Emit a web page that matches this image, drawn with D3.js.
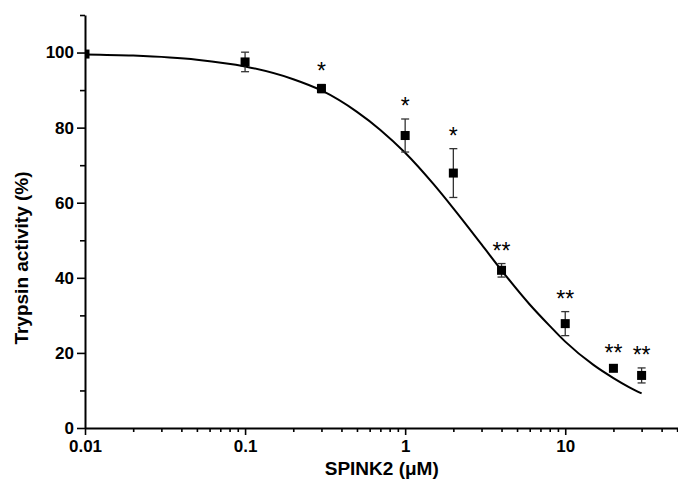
<!DOCTYPE html>
<html>
<head>
<meta charset="utf-8">
<script src="https://cdn.jsdelivr.net/npm/d3@7"></script>
<style>
  body { margin: 0; background: #fff; }
  svg { display: block; font-family: "Liberation Sans", Arial, sans-serif; }
</style>
</head>
<body>
<div class="main"></div>
<script>
// measured points (mean +/- error)
const conc = [0.01, 0.1, 0.3, 1, 2, 4, 10, 20, 30];
const activity = [99.6, 97.5, 90.4, 77.9, 67.9, 42.0, 27.8, 15.9, 14.0];
const errs = [0, 2.6, 1.1, 4.4, 6.5, 1.8, 3.2, 0.6, 2.0];
const stars = ["", "", "*", "*", "*", "**", "**", "**", "**"];

// fitted curve
const fitConc = [0.01, 0.02, 0.05, 0.1, 0.2, 0.3, 0.5, 0.7, 1, 1.5, 2, 3, 4, 6, 8, 10, 15, 20, 25, 30];
const fitActivity = [99.5, 99.2, 98.1, 96.3, 92.9, 89.9, 84.2, 79.4, 73.3, 65.0, 58.5, 48.9, 42.0, 32.9, 27.2, 23.0, 16.8, 13.3, 10.9, 9.2];

const xMajor = [0.01, 0.1, 1, 10];
const xMinor = [0.02, 0.03, 0.04, 0.05, 0.06, 0.07, 0.08, 0.09,
  0.2, 0.3, 0.4, 0.5, 0.6, 0.7, 0.8, 0.9,
  2, 3, 4, 5, 6, 7, 8, 9, 20, 30, 40, 50];
const yMajor = [0, 20, 40, 60, 80, 100];
const yMinor = [10, 30, 50, 70, 90, 110];

const fullwidth = 678;
const fullheight = 481;
const margin = { left: 85, right: 678.5, top: 15, bottom: 428 };

const svg = d3.select(".main")
  .append("svg")
  .attr("width", fullwidth)
  .attr("height", fullheight);

const x = d3.scaleLog().domain([0.01, 51]).range([margin.left, margin.right]);
const y = d3.scaleLinear().domain([0, 110]).range([margin.bottom, margin.top]);

svg.append("defs").append("clipPath").attr("id", "plot")
  .append("rect")
  .attr("x", margin.left).attr("y", 0)
  .attr("width", fullwidth - margin.left).attr("height", margin.bottom);

// fitted line
const line = d3.line()
  .x((d, i) => x(fitConc[i]))
  .y(d => y(d))
  .curve(d3.curveMonotoneX);

svg.append("path")
  .datum(fitActivity)
  .attr("clip-path", "url(#plot)")
  .attr("fill", "none")
  .attr("stroke", "#000")
  .attr("stroke-width", 2)
  .attr("d", line);

// error bars
const eg = svg.append("g").attr("stroke", "#333").attr("stroke-width", 1.3);
conc.forEach((c, i) => {
  if (!errs[i]) return;
  const cx = x(c);
  const y1 = y(activity[i] + errs[i]);
  const y2 = y(activity[i] - errs[i]);
  eg.append("line").attr("x1", cx).attr("x2", cx).attr("y1", y1).attr("y2", y2);
  eg.append("line").attr("x1", cx - 4).attr("x2", cx + 4).attr("y1", y1).attr("y2", y1);
  eg.append("line").attr("x1", cx - 4).attr("x2", cx + 4).attr("y1", y2).attr("y2", y2);
});

// squares
svg.append("g")
  .attr("clip-path", "url(#plot)")
  .selectAll("rect")
  .data(conc)
  .join("rect")
  .attr("x", d => x(d) - 4.5)
  .attr("y", (d, i) => y(activity[i]) - 4.5)
  .attr("width", 9)
  .attr("height", 9)
  .attr("fill", "#000");

// significance marks
svg.append("g")
  .selectAll("text")
  .data(conc)
  .join("text")
  .attr("x", d => x(d))
  .attr("y", (d, i) => y(activity[i] + errs[i]) - 5)
  .attr("text-anchor", "middle")
  .attr("font-size", 23)
  .text((d, i) => stars[i]);

// axes
function styleAxis(g) {
  g.select(".domain").attr("stroke-width", 2);
  g.selectAll(".tick line").attr("stroke-width", 1.6);
  g.selectAll("text")
    .attr("font-size", 17)
    .attr("font-weight", "bold")
    .attr("font-family", "Liberation Sans, Arial, sans-serif")
    .attr("fill", "#000");
}

svg.append("g")
  .attr("transform", "translate(0," + margin.bottom + ")")
  .call(d3.axisBottom(x).tickValues(xMinor).tickFormat("").tickSize(4).tickSizeOuter(0))
  .call(g => g.select(".domain").remove())
  .call(styleAxis);

svg.append("g")
  .attr("transform", "translate(0," + margin.bottom + ")")
  .call(d3.axisBottom(x).tickValues(xMajor).tickFormat(d3.format("")).tickSize(7).tickPadding(5).tickSizeOuter(0))
  .call(styleAxis);

svg.append("g")
  .attr("transform", "translate(" + margin.left + ",0)")
  .call(d3.axisLeft(y).tickValues(yMinor).tickFormat("").tickSize(5).tickSizeOuter(0))
  .call(g => g.select(".domain").remove())
  .call(styleAxis);

svg.append("g")
  .attr("transform", "translate(" + margin.left + ",0)")
  .call(d3.axisLeft(y).tickValues(yMajor).tickSize(8).tickPadding(3).tickSizeOuter(0))
  .call(styleAxis);

// axis titles
svg.append("text")
  .attr("x", (margin.left + margin.right) / 2)
  .attr("y", 475)
  .attr("text-anchor", "middle")
  .attr("font-size", 19)
  .attr("font-weight", "bold")
  .text("SPINK2 (\u03bcM)");

svg.append("text")
  .attr("transform", "translate(28,258) rotate(-90)")
  .attr("text-anchor", "middle")
  .attr("font-size", 19)
  .attr("font-weight", "bold")
  .text("Trypsin activity (%)");
</script>
</body>
</html>
